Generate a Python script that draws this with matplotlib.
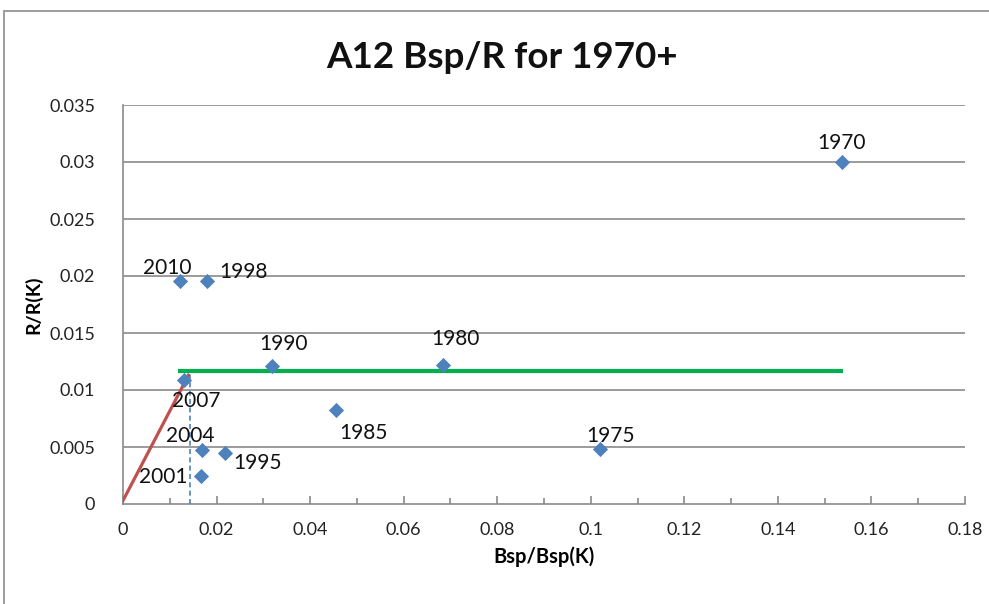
import matplotlib
matplotlib.use("Agg")
import matplotlib.pyplot as plt
from matplotlib.patches import Rectangle

# ---- data ----
years = ["1970", "1975", "1980", "1985", "1990", "1995", "1998", "2001", "2004", "2007", "2010"]
bsp_ratio = [0.1536, 0.1020, 0.0684, 0.0456, 0.0319, 0.0218, 0.0180, 0.0167, 0.0169, 0.0131, 0.0122]
r_ratio = [0.0300, 0.00482, 0.0122, 0.00825, 0.0121, 0.00447, 0.01956, 0.00246, 0.00474, 0.0109, 0.0196]

green_x = [0.0118, 0.154]
green_y = [0.01169, 0.01169]
red_x = [0.0, 0.0140]
red_y = [0.0003, 0.0113]
blue_dash_x = [0.0143, 0.0143]
blue_dash_y = [0.0, 0.0113]

x_ticks = [0, 0.02, 0.04, 0.06, 0.08, 0.1, 0.12, 0.14, 0.16, 0.18]
x_tick_labels = ["0", "0.02", "0.04", "0.06", "0.08", "0.1", "0.12", "0.14", "0.16", "0.18"]
y_ticks = [0, 0.005, 0.01, 0.015, 0.02, 0.025, 0.03, 0.035]
y_tick_labels = ["0", "0.005", "0.01", "0.015", "0.02", "0.025", "0.03", "0.035"]

# label offsets (pixels)
label_offsets = {
    "1970": (0, 19), "1975": (10, 13), "1980": (12, 26), "1985": (27, -23),
    "1990": (11, 22), "1995": (33, -10), "1998": (36, 9), "2001": (-38, -1),
    "2004": (-12, 14), "2007": (12, -21), "2010": (-13, 13),
}

plt.rcParams['font.family'] = ['Lato', 'DejaVu Sans']

fig = plt.figure(figsize=(9.89, 6.04), dpi=100)
fig.patches.append(Rectangle((4 / 989, -0.1), 2.0, 1 - 11 / 604 + 0.1,
                             transform=fig.transFigure, fill=False,
                             edgecolor="#8c8c8c", linewidth=1.2))
ax = fig.add_axes([123 / 989, 1 - 504 / 604, (965 - 123) / 989, (504 - 105) / 604])

ax.set_xlim(0, 0.18)
ax.set_ylim(0, 0.035)

grid_color = "#8a8a8a"
for yv in y_ticks[1:]:
    ax.axhline(yv, color=grid_color, linewidth=1.2, zorder=1)

for s in ["top", "right"]:
    ax.spines[s].set_visible(False)
for s in ["left", "bottom"]:
    ax.spines[s].set_color(grid_color)
    ax.spines[s].set_linewidth(1.2)

ax.set_xticks(x_ticks)
ax.set_xticklabels(x_tick_labels)
ax.set_xticks([0.01 + 0.02 * i for i in range(9)], minor=True)
ax.tick_params(axis="x", which="major", direction="in", length=6, width=1.2,
               color=grid_color, labelsize=13, pad=13, labelcolor="#222222")
ax.tick_params(axis="x", which="minor", direction="in", length=4, width=1.2,
               color=grid_color)
ax.set_yticks(y_ticks)
ax.set_yticklabels(y_tick_labels)
ax.tick_params(axis="y", length=0, labelsize=13, pad=20, labelcolor="#222222")

ax.plot(green_x, green_y, color="#00B050", linewidth=3, zorder=3, solid_capstyle="butt")
ax.plot(red_x, red_y, color="#C0504D", linewidth=2.3, zorder=4)
ax.plot(blue_dash_x, blue_dash_y, color="#4F81BD", linewidth=1.2,
        linestyle=(0, (3, 2)), zorder=3)

ax.scatter(bsp_ratio, r_ratio, marker="D", s=60, color="#4F81BD", zorder=5,
           linewidths=0)

for yr, xv, yv in zip(years, bsp_ratio, r_ratio):
    dx, dy = label_offsets[yr]
    ax.annotate(yr, (xv, yv), xytext=(dx, dy), textcoords="offset pixels",
                ha="center", va="center", fontsize=15, color="#111111", zorder=6)

ax.set_xlabel("Bsp/Bsp(K)", fontsize=14.5, fontweight="bold", labelpad=6)
ax.set_ylabel("R/R(K)", fontsize=14, fontweight="bold", labelpad=5)
fig.text(502 / 989, 1 - 58 / 604, "A12 Bsp/R for 1970+", ha="center", va="center",
         fontsize=26.5, fontweight="bold", color="#111111")

fig.savefig("out.png", dpi=100)
